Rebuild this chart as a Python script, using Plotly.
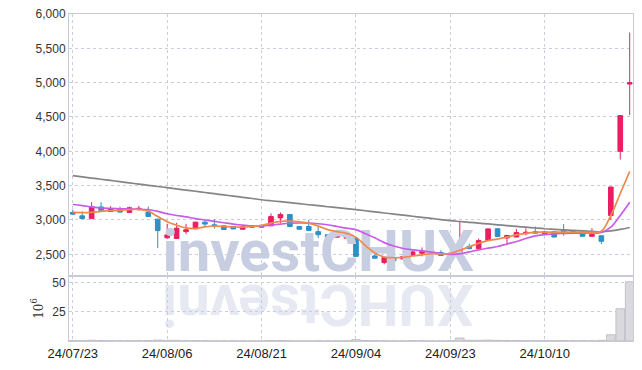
import plotly.graph_objects as go
from plotly.subplots import make_subplots

dates = ["24/07/23","24/07/24","24/07/25","24/07/26","24/07/29","24/07/30","24/07/31","24/08/01","24/08/02","24/08/05",
         "24/08/06","24/08/07","24/08/08","24/08/09","24/08/12","24/08/13","24/08/14","24/08/16","24/08/19","24/08/20",
         "24/08/21","24/08/22","24/08/23","24/08/26","24/08/27","24/08/28","24/08/29","24/08/30","24/09/02","24/09/03",
         "24/09/04","24/09/05","24/09/06","24/09/09","24/09/10","24/09/11","24/09/12","24/09/13","24/09/19","24/09/20",
         "24/09/23","24/09/24","24/09/25","24/09/26","24/09/27","24/09/30","24/10/02","24/10/04","24/10/07","24/10/08",
         "24/10/10","24/10/11","24/10/14","24/10/15","24/10/16","24/10/17","24/10/18","24/10/21","24/10/22","24/10/23"]

open_ = [3110,3060,3020,3190,3125,3160,3110,3150,3115,3012,
         2740,2730,2830,2872,2968,2930,2915,2905,2865,2895,
         2920,2915,3030,3080,2905,2905,2830,2785,2750,2735,
         2735,2462,2477,2380,2450,2432,2485,2515,2550,2525,
         2492,2485,2615,2582,2700,2872,2738,2752,2800,2830,
         2830,2830,2855,2810,2830,2762,2770,3065,4000,4980]
high = [3150,3125,3260,3260,3200,3195,3195,3205,3195,3015,
        2945,2960,2942,2975,3012,3010,2920,2910,2910,2920,
        2925,3095,3110,3085,2910,3000,2905,2790,2780,2815,
        2740,2580,2515,2460,2455,2475,2555,2600,2575,2560,
        2530,2985,2655,2730,2875,2880,2780,2870,2880,2905,
        2840,2835,2940,2845,2835,2880,2775,3485,4525,5730]
low = [3080,3015,3015,3120,3120,3110,3100,3140,3045,2590,
       2730,2725,2794,2870,2905,2875,2855,2865,2860,2890,
       2885,2910,2955,2900,2860,2845,2735,2735,2745,2730,
       2465,2458,2440,2355,2385,2428,2480,2470,2505,2478,
       2488,2480,2580,2578,2695,2755,2640,2748,2780,2800,
       2780,2745,2770,2805,2760,2758,2648,3000,3880,4530]
close = [3085,3020,3190,3140,3160,3115,3178,3170,3050,2845,
         2782,2880,2857,2968,2940,2915,2860,2870,2900,2910,
         2893,3050,3080,2905,2865,2848,2785,2750,2775,2770,
         2470,2492,2443,2455,2405,2470,2535,2540,2512,2482,
         2515,2615,2582,2700,2870,2760,2775,2818,2822,2808,
         2788,2752,2818,2840,2762,2792,2690,3480,4520,5000]

ma_short = [3110,3108,3112,3125,3135,3140,3150,3155,3130,3050,
            2975,2925,2885,2875,2900,2912,2905,2898,2896,2905,
            2920,2955,2980,2982,2972,2955,2910,2860,2830,2805,
            2750,2625,2520,2460,2450,2455,2475,2492,2508,2505,
            2512,2560,2610,2660,2700,2722,2750,2782,2805,2820,
            2822,2822,2824,2824,2822,2820,2835,3065,3385,3708]
ma_mid = [3225,3210,3190,3175,3168,3163,3160,3157,3150,3125,
          3090,3065,3045,3020,3000,2980,2960,2940,2925,2912,
          2910,2925,2940,2952,2956,2955,2945,2930,2905,2880,
          2860,2800,2740,2670,2620,2585,2565,2550,2532,2515,
          2500,2505,2535,2565,2590,2613,2650,2686,2730,2768,
          2785,2798,2804,2808,2808,2810,2818,2895,3065,3258]
ma_long = [3645,3628,3610,3593,3576,3558,3540,3523,3505,3488,
           3470,3452,3435,3418,3400,3383,3365,3348,3330,3313,
           3295,3280,3266,3252,3237,3222,3208,3193,3179,3164,
           3150,3134,3118,3102,3086,3070,3054,3038,3022,3006,
           2990,2978,2966,2954,2942,2930,2918,2906,2895,2883,
           2872,2864,2856,2849,2841,2834,2828,2840,2862,2890]

volume = [0.4,0.3,0.6,0.4,0.3,0.3,0.3,0.3,0.3,0.8,
          0.5,0.5,0.3,0.3,0.3,0.2,0.2,0.2,0.2,0.2,
          0.2,0.4,0.4,0.3,0.2,0.2,0.3,0.2,0.2,0.2,
          1.2,0.4,0.3,0.3,0.2,0.2,0.3,0.3,0.2,0.2,
          0.3,2.6,0.6,0.6,0.8,0.5,0.4,0.4,0.3,0.3,
          0.3,0.3,0.4,0.3,0.3,0.3,0.5,5.4,27.8,51.0]

price_ticks = [2500, 3000, 3500, 4000, 4500, 5000, 5500, 6000]
volume_ticks = [25, 50]
date_ticks = dates[0::10]
watermark = "investCHUX"

UP = "#e91e63"
DOWN = "#2b91c8"
GRID = "#c9cddc"
AXLINE = "#c8cad8"
TICKFONT = dict(family="Liberation Sans, Arial, sans-serif", size=12, color="#333333")
WMFONT = "Roboto, Liberation Sans, sans-serif"

fig = make_subplots(rows=2, cols=1, shared_xaxes=True, vertical_spacing=0,
                    row_heights=[0.801, 0.199])

# watermark (under the marks)
fig.add_trace(go.Scatter(x=[dates[26]], y=[2465], mode="text", text=[watermark],
                         textposition="middle center", cliponaxis=False, hoverinfo="skip",
                         textfont=dict(family=WMFONT, size=58, color="#c8cee2", weight="bold")),
              row=1, col=1)

fig.add_trace(go.Candlestick(x=dates, open=open_, high=high, low=low, close=close,
                             increasing=dict(line=dict(color=UP, width=1), fillcolor=UP),
                             decreasing=dict(line=dict(color=DOWN, width=1), fillcolor=DOWN),
                             whiskerwidth=0),
              row=1, col=1)

fig.add_trace(go.Scatter(x=dates, y=ma_long, mode="lines",
                         line=dict(color="#858585", width=1.7, shape="spline")), row=1, col=1)
fig.add_trace(go.Scatter(x=dates, y=ma_mid, mode="lines",
                         line=dict(color="#c85ce8", width=1.7, shape="spline")), row=1, col=1)
fig.add_trace(go.Scatter(x=dates, y=ma_short, mode="lines",
                         line=dict(color="#ef8a4c", width=1.7, shape="spline")), row=1, col=1)

fig.add_trace(go.Bar(x=dates, y=volume, marker=dict(color="#d9d9de", line=dict(color="#b9b9c2", width=0.8))),
              row=2, col=1)

fig.update_layout(
    width=642, height=370,
    margin=dict(l=69, r=9, t=14, b=29),
    plot_bgcolor="white", paper_bgcolor="white",
    showlegend=False, bargap=0.08,
    font=TICKFONT,
)

common_x = dict(type="category", categoryorder="array", categoryarray=dates,
                range=[-0.4, 59.35], showgrid=True, gridcolor=GRID, griddash="dot",
                gridwidth=1, tickvals=date_ticks, ticktext=date_ticks, showline=True, linecolor=AXLINE,
                linewidth=1, mirror=True, ticks="", zeroline=False, automargin=False)
fig.update_xaxes(**common_x)
fig.update_xaxes(showticklabels=False, rangeslider_visible=False, row=1, col=1)
fig.update_xaxes(showticklabels=True, tickfont=dict(family="Liberation Sans, Arial, sans-serif", size=13, color="#222222"),
                 row=2, col=1)

fig.update_yaxes(range=[2185, 6000], tickvals=price_ticks, tickformat=",d", showgrid=True, gridcolor=GRID,
                 griddash="dot", showline=True, linecolor=AXLINE, mirror=True, ticks="", zeroline=False,
                 tickfont=TICKFONT, automargin=False, row=1, col=1)
fig.update_yaxes(range=[0, 56], tickvals=volume_ticks, showgrid=True, gridcolor=GRID, griddash="dot",
                 showline=True, linecolor=AXLINE, mirror=True, ticks="", zeroline=False, tickfont=TICKFONT,
                 automargin=False,
                 title=dict(text="10<sup>6</sup>", standoff=6,
                            font=dict(family="DejaVu Serif, serif", size=12, color="#333333")),
                 row=2, col=1)

# reflection of the watermark
fig.add_annotation(xref="paper", yref="paper", x=0.441, y=0.11, text=watermark[::-1], textangle=180,
                   showarrow=False, xanchor="center", yanchor="middle",
                   font=dict(family=WMFONT, size=58, color="rgba(201,207,226,0.45)", weight="bold"))

fig.write_html("out.html", config={"displayModeBar": False},
               post_script="document.body.style.margin='0px';document.body.style.overflow='hidden';")
